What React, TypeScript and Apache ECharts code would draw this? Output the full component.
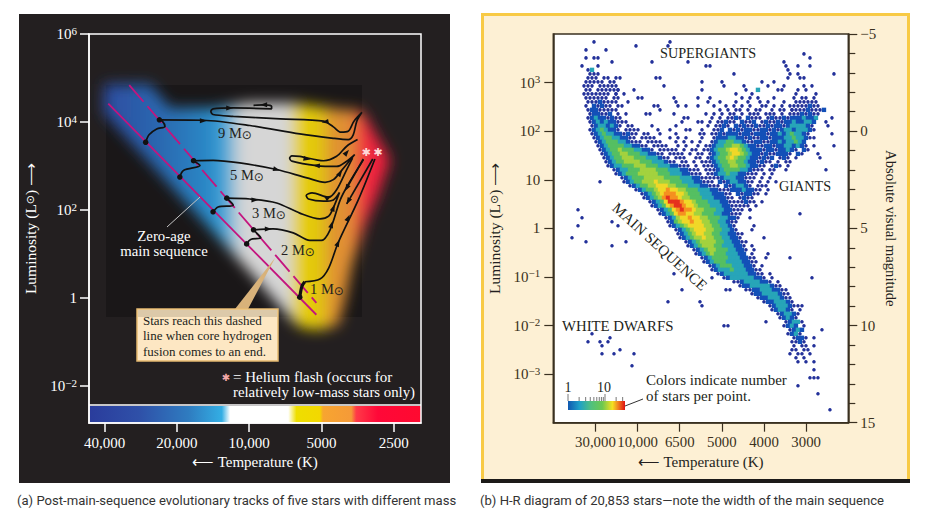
import React, { useEffect, useRef } from "react";
import * as echarts from "echarts";

const SERIF = "'Liberation Serif', serif";
const SANS = "Roboto, sans-serif";

// ---------- Panel (a): x = octaves of temperature below 40,000 K, y = log10 luminosity
const tempTicks = [0, 1, 2, 3, 4];
const tempLabels = ["40,000", "20,000", "10,000", "5000", "2500"];
const lumTicksA = [-2, 0, 2, 4, 6];
const lumLabelsA = ["{b|10}{s|−2}", "{b|1}", "{b|10}{s|2}", "{b|10}{s|4}", "{b|10}{s|6}"];

const zeroAgeLine = [[0.05, 4.42], [2.93, -0.38]];
const coreEndLine = [[0.34, 4.84], [2.93, -0.11]];

const track9 = [[0.567, 3.54], [0.614, 3.71], [0.72, 3.84], [0.835, 3.9], [0.798, 4.02], [0.757, 4.05]];
const track9Post = [[0.757, 4.05], [1.366, 4.04], [2.01, 3.92], [2.7, 3.73], [3.165, 3.63], [3.37, 3.6], [3.44, 3.71], [3.49, 4.02], [3.56, 4.22], [3.45, 4.02], [3.37, 3.79], [3.27, 3.77], [3.165, 3.89], [3.03, 4.02], [2.43, 4.07], [1.78, 4.13], [1.5, 4.17], [1.47, 4.24], [1.5, 4.3], [1.78, 4.32], [2.31, 4.3], [2.31, 4.36], [2.2, 4.39], [2.06, 4.38]];
const track5 = [[1.04, 2.75], [1.09, 2.9], [1.32, 3.01], [1.23, 3.12]];
const track5Post = [[1.23, 3.12], [1.5, 3.13], [1.87, 3.07], [2.38, 2.92], [2.8, 2.73], [3.05, 2.63], [3.165, 2.69], [3.28, 2.9], [3.46, 3.26], [3.35, 3.11], [3.21, 2.99], [2.93, 3.01], [2.59, 3.11], [2.56, 3.18], [2.59, 3.23], [2.7, 3.22], [3.03, 3.12], [3.21, 3.22], [3.35, 3.45], [3.5, 3.6]];
const track3 = [[1.5, 1.96], [1.57, 2.07], [1.78, 2.11], [1.69, 2.27]];
const track3Post = [[1.69, 2.27], [2.01, 2.25], [2.38, 2.16], [2.7, 1.93], [2.98, 1.8], [3.1, 1.86], [3.165, 2.05], [3.25, 2.4], [3.165, 2.23], [3.03, 2.2], [2.82, 2.25], [2.79, 2.33], [2.87, 2.39], [3.1, 2.29], [3.21, 2.46], [3.35, 2.92], [3.43, 3.18]];
const track2 = [[1.965, 1.23], [2.02, 1.33], [2.16, 1.37], [2.1, 1.48], [2.06, 1.55]];
const track2Post = [[2.06, 1.55], [2.33, 1.57], [2.61, 1.48], [2.84, 1.31], [3.0, 1.31], [3.12, 1.55], [3.26, 2.23], [3.37, 2.58], [3.58, 3.14]];
const track1 = [[2.7, 0.02], [2.73, 0.27], [2.77, 0.37]];
const track1Post = [[2.77, 0.37], [2.98, 0.43], [3.1, 0.68], [3.23, 1.25], [3.51, 2.23], [3.74, 3.16]];
const flashDescentA = [[3.58, 3.16], [3.35, 2.5]];
const flashDescentB = [[3.71, 3.16], [3.35, 2.14]];
const trackDots = [[0.567, 3.54], [0.757, 4.05], [1.04, 2.75], [1.23, 3.12], [1.5, 1.96], [1.69, 2.27], [1.965, 1.23], [2.06, 1.55], [2.7, 0.02]];
// octave, log L, arrow direction in degrees
const trackArrows = [[1.366, 4.03, -90], [1.73, 4.32, -90], [2.2, 4.39, 90], [3.05, 4.0, 100], [2.38, 2.92, -105], [2.8, 3.16, -100], [2.93, 3.01, 85], [3.26, 2.84, -35], [3.35, 3.31, -40], [2.08, 2.23, -90], [3.165, 2.05, -20], [3.1, 2.29, -60], [2.265, 1.57, -90], [3.14, 1.67, -15], [3.23, 1.25, -25], [3.37, 1.82, -25], [3.35, 2.5, 150], [3.37, 2.2, 150]];
const flashPoints = [[3.62, 3.3], [3.78, 3.3]];

// ---------- Panel (b)
const specTicks = [1, 2, 3, 4, 5, 6];
const specLabels = ["30,000", "10,000", "6500", "5000", "4000", "3000"];
const lumTicksB = [-3, -2, -1, 0, 1, 2, 3];
const lumLabelsB = ["{b|10}{s|−3}", "{b|10}{s|−2}", "{b|10}{s|−1}", "{b|1}", "{b|10}", "{b|10}{s|2}", "{b|10}{s|3}"];
const magLabels: Record<string, string> = { "-5": "−5", "0": "0", "5": "5", "10": "10", "15": "15" };

// Stars per point, one string per row from the top of the plot.
// Each token is "column:levels"; a dot is an empty cell, 1..8 is the colour level.
const densityRows = [
  "",
  "9:1 28:1",
  "20:1 28:1",
  "7:1 12:1",
  "62:1",
  "7:1 9:1 10:1 63:1",
  "14:1 24:1 33:1 57:1",
  "6:1 10:1 37:1 38:1 57:1 60:1 63:1",
  "8:1 9:3 58:1",
  "8:111 44:1 58:1 60:1 69:1",
  "8:111.11.1 16:1 25:1 26:1 58:1 61:1 62:1",
  "7:11111.11 36:1 41:1 51:1 54:1",
  "7:111.11111 27:1 42:1 47:1 53:1 57:1 62:1 64:1",
  "7:11.111111 15:1 19:1 36:1 47:1 50:3 55:1 56:1 60:1 62:1",
  "7:1111111.1 15:1 17:1 45:1 49:1 60:1 65:1",
  "7:111111.11 20:1 21:1 29:1 35:1 38:1 46:1 48:1 50:1 54:1 59:1.11.1",
  "8:11121111 18:1 30:1 38:1 41:1 45:1 48:1 51:1 53:1 57:1 60:111111",
  "7:1.21211.11 24:1 25:1 30:1 32:1 35:1 39:1..1.1 46:1.1..11.1.1 58:11111211",
  "8:12211111 26:1 41:1.1.11.1.11..1.11.1 59:111121112",
  "8:122112.1.1 22:1 23:1 29:1 37:1 39:1.1.11.1.111.111.1.11121211",
  "8:123221211 32:1 33:1 39:1.1.1121.2111.1211212223223 69:1",
  "8:1232322111 31:1 35:1 36:1 38:1.11211.2112.12112122322332 66:.1",
  "9:12332321.11 24:1 30:1 38:1 40:1121.21211211212212333321 68:1",
  "8:12343221.1111 25:1 28:1 32:1 33:1 36:1 39:112.2121221122121233233321",
  "9:123433221211.11 26:1 30:1 36:11 39:1121222122122212232343321 69:1",
  "9:12344332211.1111 28:1 30:1 32:1 36:1 39:12223322121122122233433211",
  "10:123444332111.1111 30:1 32:1 34:1 36:1 39:123344332112211223233432",
  "10:1234444332211.1111 30:1.1..1.1 38:1233445543221122122332321.1 69:1",
  "11:12344544433221.11111 32:1.11.1 38:12344566543222122122321.21",
  "11:1234455444332211.1111 33:1.11 38:123445665432212112221.21 65:1",
  "12:12344555444333211.111 35:11 38:12344565443221212.121.1 66:1",
  "12:123445555444333211.11 34:1.11 38:1234455443221211.1.11",
  "13:123344455544433322111 35:1.11 39:12344554432211.121.1",
  "14:1233444555544433322111 37:11 39:1234444332111.11..1 67:1",
  "15:1234445555544433322111 38:1 39:123343322111.1.1",
  "16:123444555554444333221111 40:1233322111.1.1",
  "11:1 17:12344555655544433322111 41:212332211.1.1.1",
  "18:12344556665544433322111 42:2123321.111",
  "20:123445667665544433322111 44:22232211.1",
  "21:12345677766544433322211 45:212211.1",
  "22:12345787765544433322211 46:1211",
  "23:1234688876654443332211 45:11211 51:1",
  "24:1234678876654443332211 46:111.1",
  "5:1 25:123467877655444332211 46:1.1 48:1",
  "26:1234677665544433221 45:11 61:1",
  "6:1 26:.1235667665544433221 48:1",
  "14:1 28:124566766554433211",
  "5:1 15:1 28:12345666655443321 49:1",
  "30:1234566655443321 49:1",
  "30:12345665544332211",
  "4:1 31:1234556554433221 52:1",
  "7:1 17:1 32:1234555544332211",
  "14:1 33:123455544333221.1",
  "34:12345544433221.1",
  "35:1234544433322.1 53:1",
  "36:12344443332211 52:1 58:1",
  "37:12344433332211",
  "38:123444333221.1",
  "39:1233343332211",
  "29:1 40:123333332211.1",
  "39:1 42:12333333221.1 64:1",
  "44:1123333221.1",
  "46:12233333211",
  "31:1 42:11 47:11223332211",
  "49:1223333211",
  "50:122333211",
  "28:1 36:1 52:12233321",
  "36:1 53:1233321 60:11",
  "54:123321.1",
  "55:123321",
  "56:12321",
  "52:1 56:.12331",
  "42:11 57:1232.1",
  "57:.1232 66:1",
  "9:1 58:1231",
  "13:1 58:.1221.1",
  "8:1 11:1 13:1 59:1121",
  "11:1 59:1.11.1",
  "16:1 59:11.1 63:1",
  "11:1 14:1 19:1 58:1.11.1",
  "60:1.1",
  "60:1.1.1",
  "19:1",
  "64:1",
  "",
  "63:11 65:1",
  "",
  "60:1",
  "",
  "65:1",
  "",
  "",
  "",
  "68:1",
];
const levelColors = ["#23319a", "#1350b8", "#27a5b8", "#55bf62", "#a3d23e", "#f0d828", "#f59020", "#e6301e"];
const colourBarValues = [1, 2, 3, 4, 5, 6, 7, 8, 9, 10, 20, 30];

const COL0 = 0.064, COLSTEP = 0.0949, COLHALF = 0.0474, ROW0 = 3.92, ROWSTEP = 0.0823;
function densityPoints() {
  const pts: number[][] = [];
  densityRows.forEach((row, r) => {
    if (!row) return;
    row.split(" ").forEach((tok) => {
      const [c, cells] = tok.split(":");
      for (let i = 0; i < cells.length; i++) {
        if (cells[i] === ".") continue;
        pts.push([COL0 + (Number(c) + i) * COLSTEP + (r % 2 ? COLHALF : 0), ROW0 - r * ROWSTEP, Number(cells[i])]);
      }
    });
  });
  return pts;
}

// ---------- Texts
const massLabels = [["9 M", 235, 133], ["5 M", 247, 175], ["3 M", 269, 213], ["2 M", 298, 250], ["1 M", 327, 289]];
const calloutLines = ["Stars reach this dashed", "line when core hydrogen", "fusion comes to an end."];
const captionA = "(a) Post-main-sequence evolutionary tracks of five stars with different mass";
const captionB = "(b) H-R diagram of 20,853 stars—note the width of the main sequence";

const bandSvg = `<svg xmlns="http://www.w3.org/2000/svg" width="340" height="300" viewBox="80 60 340 300">
<defs><linearGradient id="g" gradientUnits="userSpaceOnUse" x1="100" y1="0" x2="400" y2="0">
<stop offset="0" stop-color="#2d4a9f"/><stop offset="0.2" stop-color="#2c68b0"/><stop offset="0.36" stop-color="#2a88c6"/><stop offset="0.41" stop-color="#3a9fd6"/>
<stop offset="0.47" stop-color="#d6d6d6"/><stop offset="0.635" stop-color="#d6d6d6"/><stop offset="0.655" stop-color="#e8d000"/><stop offset="0.74" stop-color="#e0c410"/>
<stop offset="0.77" stop-color="#e09030"/><stop offset="0.84" stop-color="#e09036"/><stop offset="0.875" stop-color="#ee2a40"/><stop offset="1" stop-color="#f8183c"/>
</linearGradient><filter id="b" x="-20%" y="-20%" width="140%" height="140%"><feGaussianBlur stdDeviation="7"/></filter></defs>
<polygon filter="url(#b)" fill="url(#g)" points="104,84 150,84 170,108 215,108 250,103 292,103 345,110 358,110 365,115 376,135 385,150 390,160 378,195 365,225 352,265 345,300 338,325 320,330 302,328 292,320 250,272 103,112"/>
</svg>`;

const serifText = (text: string, x: number, y: number, size: number, fill: string, extra: any = {}) => ({
  type: "text", z: 100,
  style: { text, x, y, fontFamily: SERIF, fontSize: size, fill, textVerticalAlign: "middle", ...extra },
});

const tickRich = (color: string) => ({
  b: { fontFamily: SERIF, fontSize: 15, color },
  s: { fontFamily: SERIF, fontSize: 11, color, padding: [0, 0, 7, 0] },
});

function buildOption() {
  const points = densityPoints();
  const line = (data: number[][], width = 1.7, color = "#111", extra: any = {}) => ({
    type: "line", xAxisIndex: 0, yAxisIndex: 0, data, showSymbol: false, symbol: "none", smooth: 0.3,
    lineStyle: { color, width }, silent: true, z: 5, ...extra,
  });
  const graphic: any[] = [
    { type: "rect", z: -10, shape: { x: 19, y: 14, width: 431, height: 469 }, style: { fill: "#231f20" } },
    { type: "rect", z: -9, shape: { x: 106, y: 85, width: 256, height: 232 }, style: { fill: "#1a1718" } },
    { type: "image", z: -8, style: { image: "data:image/svg+xml," + encodeURIComponent(bandSvg), x: 80, y: 60, width: 340, height: 300 } },
    {
      type: "rect", z: -2, shape: { x: 89, y: 406, width: 332, height: 17 },
      style: {
        fill: new echarts.graphic.LinearGradient(0, 0, 1, 0, [
          { offset: 0, color: "#2a3c9c" }, { offset: 0.15, color: "#2f50a8" }, { offset: 0.3, color: "#2f7cc0" }, { offset: 0.4, color: "#33aee4" },
          { offset: 0.425, color: "#fff" }, { offset: 0.6, color: "#fff" }, { offset: 0.625, color: "#eede00" }, { offset: 0.695, color: "#f3d800" },
          { offset: 0.705, color: "#f7a530" }, { offset: 0.79, color: "#f59a38" }, { offset: 0.805, color: "#ff3a48" }, { offset: 0.87, color: "#ff0838" }, { offset: 1, color: "#ff0a30" },
        ]),
      },
    },
    { type: "line", z: 10, shape: { x1: 89, y1: 405, x2: 421, y2: 405 }, style: { stroke: "#fff", lineWidth: 1.5 } },
    { type: "line", z: 100, shape: { x1: 167, y1: 227, x2: 200, y2: 197 }, style: { stroke: "#c4c4c4", lineWidth: 1 } },
    serifText("Zero-age", 164, 236, 14.8, "#fff", { textAlign: "center" }),
    serifText("main sequence", 164, 251, 14.8, "#fff", { textAlign: "center" }),
    { type: "polygon", z: 100, shape: { points: [[275, 258], [248, 309], [235, 309]] }, style: { fill: "#d8b27a" } },
    { type: "rect", z: 100, shape: { x: 137, y: 309, width: 141, height: 52 }, style: { fill: "#fde7c3", stroke: "#e6ba70", lineWidth: 1.5 } },
    { type: "rect", z: 100, shape: { x: 138, y: 310, width: 139, height: 7 }, style: { fill: "rgba(0,0,0,0.13)" } },
    ...calloutLines.map((t, i) => serifText(t, 143, 320 + i * 15.5, 13, "#231f20")),
    { type: "text", z: 100, style: { text: "✱", x: 226, y: 377, fontFamily: "'DejaVu Sans'", fontSize: 10, fill: "#f4a8a8", textAlign: "center", textVerticalAlign: "middle" } },
    serifText("= Helium flash (occurs for", 233, 377, 15, "#fff"),
    serifText("relatively low-mass stars only)", 233, 392, 14.8, "#fff"),
    { type: "text", z: 100, style: { text: captionA, x: 17, y: 500, fontFamily: SANS, fontSize: 13.1, fill: "#333", textVerticalAlign: "middle" } },
    { type: "text", z: 100, style: { text: captionB, x: 480, y: 500, fontFamily: SANS, fontSize: 13.1, fill: "#333", textVerticalAlign: "middle" } },

    { type: "rect", z: -10, shape: { x: 482.5, y: 14.5, width: 426, height: 467 }, style: { fill: "#fdf0d4", stroke: "#f8ca45", lineWidth: 3 } },
    { type: "rect", z: -9, shape: { x: 481, y: 479, width: 429, height: 4 }, style: { fill: "#1c1a18" } },
    serifText("SUPERGIANTS", 660, 53, 14.2, "#231f20"),
    serifText("GIANTS", 779, 186, 14.2, "#231f20"),
    serifText("WHITE DWARFS", 562, 326, 14.8, "#231f20"),
    {
      ...serifText("MAIN SEQUENCE", 660, 247, 15, "#231f20", { textAlign: "center" }),
      rotation: -0.74, originX: 660, originY: 247,
    },
    serifText("Colors indicate number", 646, 380, 15, "#231f20"),
    serifText("of stars per point.", 646, 396, 15, "#231f20"),
    { type: "line", z: 100, shape: { x1: 625, y1: 406, x2: 643, y2: 399 }, style: { stroke: "#333", lineWidth: 1 } },
    serifText("1", 568, 387, 14, "#231f20", { textAlign: "center" }),
    serifText("10", 604, 387, 14, "#231f20", { textAlign: "center" }),
    {
      type: "rect", z: 100, shape: { x: 568, y: 401, width: 57, height: 9 },
      style: {
        fill: new echarts.graphic.LinearGradient(0, 0, 1, 0, [
          { offset: 0, color: "#1058b0" }, { offset: 0.2, color: "#1ea0c8" }, { offset: 0.4, color: "#50c080" }, { offset: 0.6, color: "#6cc850" },
          { offset: 0.78, color: "#f4e020" }, { offset: 0.88, color: "#f08020" }, { offset: 1, color: "#e01010" },
        ]),
      },
    },
    ...colourBarValues.map((v) => {
      const x = 568 + 37 * Math.log10(v);
      const major = v === 1 || v === 10;
      return { type: "line", z: 100, shape: { x1: x, y1: major ? 394 : 397, x2: x, y2: 401 }, style: { stroke: "#555", lineWidth: 0.8 } };
    }),
  ];
  massLabels.forEach(([t, x, y]) => {
    graphic.push({
      type: "text", z: 100,
      style: {
        text: `{a|${t}}{s|⊙}`, x, y, textAlign: "center", textVerticalAlign: "middle", fill: "#231f20",
        rich: {
          a: { fontFamily: SERIF, fontSize: 14.5, fill: "#231f20" },
          s: { fontFamily: "'DejaVu Sans'", fontSize: 12, fill: "#231f20", padding: [4, 0, 0, 0] },
        },
      },
    });
  });

  const axisNameRich = (color: string) => ({
    a: { fontFamily: SERIF, fontSize: 15.5, color },
    s: { fontFamily: "'DejaVu Sans'", fontSize: 11, color },
  });

  return {
    animation: false,
    backgroundColor: "#fff",
    graphic: { elements: graphic },
    visualMap: [{
      show: false, type: "piecewise", dimension: 2, seriesIndex: 14,
      pieces: levelColors.map((color, i) => ({ value: i + 1, color })),
    }],
    grid: [
      { left: 89, top: 34, width: 332, height: 389, show: true, borderColor: "#fff", borderWidth: 1.5, backgroundColor: "transparent" },
      { left: 553.3, top: 34, width: 295, height: 388.7, show: true, borderColor: "#3a3020", borderWidth: 1.5, backgroundColor: "#fff" },
    ],
    xAxis: [
      {
        gridIndex: 0, type: "value", min: -0.217, max: 4.378, splitLine: { show: false },
        axisLine: { onZero: false, lineStyle: { color: "#fff", width: 1.5 } },
        axisTick: { length: 9, customValues: tempTicks, lineStyle: { color: "#fff", width: 1.5 } },
        axisLabel: {
          customValues: tempTicks, color: "#fff", fontFamily: SERIF, fontSize: 15, margin: 12,
          formatter: (v: number) => tempLabels[tempTicks.indexOf(v)] ?? "",
        },
        name: "⟵ Temperature (K)", nameLocation: "middle", nameGap: 28,
        nameTextStyle: { color: "#fff", fontFamily: SERIF, fontSize: 15 },
      },
      {
        gridIndex: 1, type: "value", min: 0, max: 7, splitLine: { show: false },
        axisLine: { onZero: false, lineStyle: { color: "#3a3020", width: 1.5 } },
        axisTick: { length: 9, customValues: specTicks, lineStyle: { color: "#3a3020", width: 1.2 } },
        axisLabel: {
          customValues: specTicks, color: "#3a3020", fontFamily: SERIF, fontSize: 14.8, margin: 12,
          formatter: (v: number) => specLabels[specTicks.indexOf(v)] ?? "",
        },
        name: "⟵ Temperature (K)", nameLocation: "middle", nameGap: 28,
        nameTextStyle: { color: "#231f20", fontFamily: SERIF, fontSize: 15 },
      },
    ],
    yAxis: [
      {
        gridIndex: 0, type: "value", min: -2.84, max: 6, splitLine: { show: false },
        axisLine: { onZero: false, lineStyle: { color: "#fff", width: 1.5 } },
        axisTick: { length: 9, customValues: lumTicksA, lineStyle: { color: "#fff", width: 1.5 } },
        axisLabel: {
          customValues: lumTicksA, margin: 12, rich: tickRich("#fff"),
          formatter: (v: number) => lumLabelsA[lumTicksA.indexOf(v)] ?? "",
        },
        name: "{a|Luminosity (L}{s|⊙}{a|) ⟶}", nameLocation: "middle", nameGap: 51, nameRotate: 90,
        nameTextStyle: { rich: axisNameRich("#fff") },
      },
      {
        gridIndex: 1, type: "value", min: -4, max: 4, splitLine: { show: false },
        axisLine: { onZero: false, lineStyle: { color: "#3a3020", width: 1.5 } },
        axisTick: { length: 9, customValues: lumTicksB, lineStyle: { color: "#3a3020", width: 1.2 } },
        axisLabel: {
          customValues: lumTicksB, margin: 13, rich: tickRich("#3a3020"),
          formatter: (v: number) => lumLabelsB[lumTicksB.indexOf(v)] ?? "",
        },
        name: "{a|Luminosity (L}{s|⊙}{a|) ⟶}", nameLocation: "middle", nameGap: 51, nameRotate: 90,
        nameTextStyle: { rich: axisNameRich("#231f20") },
      },
      {
        gridIndex: 1, type: "value", position: "right", inverse: true, min: -5, max: 15, interval: 5, splitLine: { show: false },
        axisLine: { show: true, onZero: false, lineStyle: { color: "#3a3020", width: 1.5 } },
        axisTick: { show: true, length: 9, lineStyle: { color: "#3a3020", width: 1.2 } },
        minorTick: { show: true, splitNumber: 5, length: 7, lineStyle: { color: "#3a3020", width: 1.2 } },
        axisLabel: {
          color: "#3a3020", fontFamily: SERIF, fontSize: 15, margin: 12,
          formatter: (v: number) => magLabels[String(v)] ?? "",
        },
        name: "Absolute visual magnitude", nameLocation: "middle", nameGap: 35, nameRotate: -90,
        nameTextStyle: { color: "#231f20", fontFamily: SERIF, fontSize: 14.6 },
      },
    ],
    series: [
      line(zeroAgeLine, 1.8, "#c4147e", { smooth: false }),
      line(coreEndLine, 1.8, "#c4147e", { smooth: false, lineStyle: { color: "#c4147e", width: 1.8, type: [22, 6] } }),
      line(track9), line(track9Post),
      line(track5), line(track5Post),
      line(track3), line(track3Post),
      line(track2), line(track2Post),
      line(track1, 3.2), line(track1Post),
      line(flashDescentA, 1.7, "#111", { smooth: false }),
      line(flashDescentB, 1.7, "#111", { smooth: false }),
      {
        type: "scatter", xAxisIndex: 1, yAxisIndex: 1, data: points, silent: true,
        symbol: (v: number[]) => (v[2] === 1 ? "circle" : "rect"),
        symbolSize: (v: number[]) => (v[2] === 1 ? 3.5 : 4.4),
        itemStyle: { opacity: 1 }, z: 3,
      },
      { type: "scatter", xAxisIndex: 0, yAxisIndex: 0, data: trackDots, symbolSize: 5.5, itemStyle: { color: "#111", opacity: 1 }, silent: true, z: 6 },
      {
        type: "scatter", xAxisIndex: 0, yAxisIndex: 0, silent: true, z: 6,
        data: trackArrows.map((a) => ({ value: [a[0], a[1]], symbolRotate: a[2] })),
        symbol: "triangle", symbolSize: [5, 7], itemStyle: { color: "#111", opacity: 1 },
      },
      {
        type: "scatter", xAxisIndex: 0, yAxisIndex: 0, silent: true, z: 7, data: flashPoints, symbolSize: 1,
        itemStyle: { color: "rgba(0,0,0,0)", opacity: 1 },
        label: { show: true, position: "inside", formatter: "✱", fontFamily: "'DejaVu Sans'", fontSize: 11, color: "#ffd8d8" },
      },
    ],
  };
}

export default function App() {
  const ref = useRef<HTMLDivElement>(null);
  useEffect(() => {
    const chart = echarts.init(ref.current!, undefined, { renderer: "svg" });
    chart.setOption(buildOption() as any);
    return () => chart.dispose();
  }, []);
  return <div ref={ref} style={{ position: "fixed", left: 0, top: 0, width: 935, height: 518 }} />;
}
